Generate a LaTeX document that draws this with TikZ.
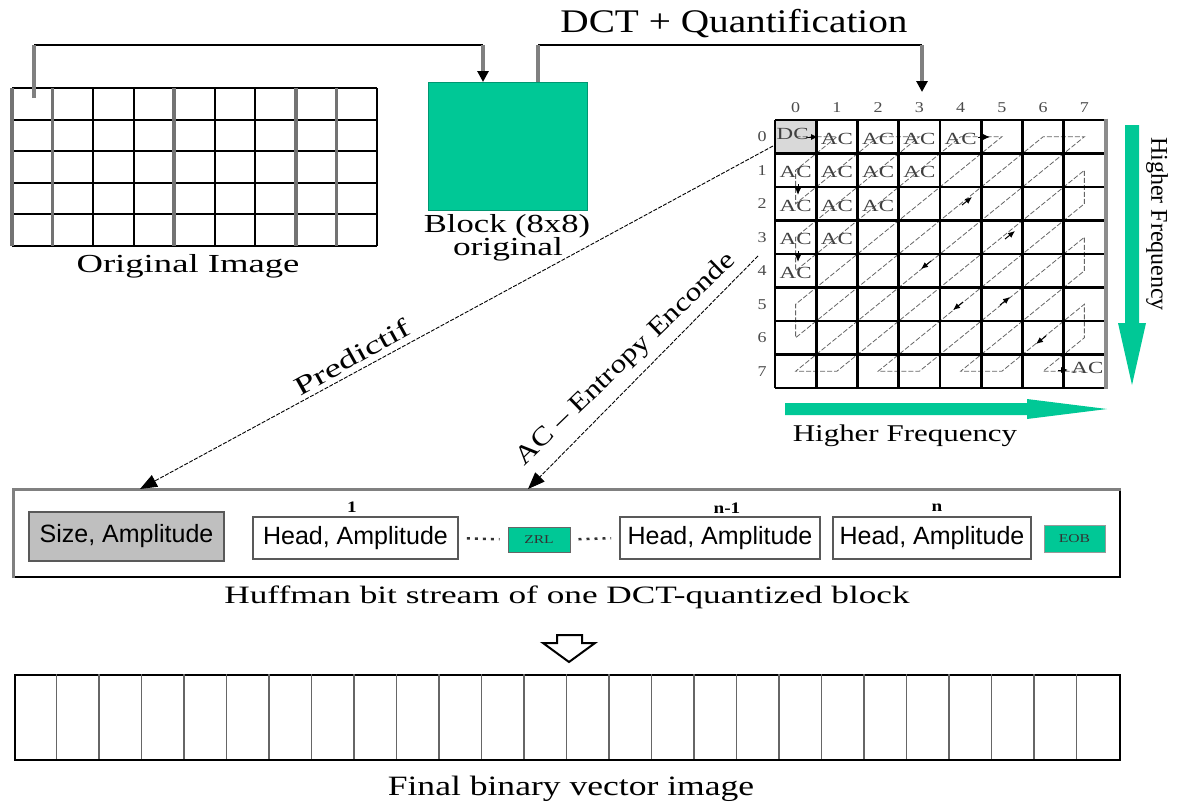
\documentclass[tikz,border=0pt]{standalone}
\usepackage{fontspec}
\setmainfont{Liberation Serif}
\setsansfont{Liberation Sans}
\usepackage{graphicx}
\usetikzlibrary{arrows.meta}
\definecolor{teal1}{RGB}{0,200,150}
\newcommand{\ST}[3]{{\fontsize{#1}{#1}\selectfont\scalebox{#2}[1]{#3}}}
\tikzset{
  grayline/.style={draw=black!50, line width=4pt},
  blkline/.style={draw=black, line width=2pt},
  tiptri/.style={-{Triangle[length=11pt,width=11pt,color=black]}},
  thinarrow/.style={line width=0.9pt, dash pattern=on 4pt off 1.5pt, -{Triangle[length=17pt,width=13pt]}},
  greenbox/.style={fill=teal1, draw=teal1!75!black, line width=1pt, inner sep=0pt},
  hbox/.style={draw=black!65, line width=1.8pt, inner sep=0pt, font=\sffamily\fontsize{25}{25}\selectfont},
  mline/.style={draw=black, line width=2.6pt},
  zig/.style={draw=black!60, line width=0.8pt, dash pattern=on 5pt off 2pt},
  zigtip/.style={draw=black, line width=1pt, -{Latex[length=7pt,width=6pt]}},
  acl/.style={inner sep=0pt, text=black!75},
  numl/.style={inner sep=0pt, text=black!70},
  lbl/.style={inner sep=0pt},
  dotsline/.style={draw=black!80, line width=2.5pt, dash pattern=on 3pt off 5pt, shorten <=8pt, shorten >=8pt}
}
\begin{document}
\begin{tikzpicture}[x=1pt,y=-1pt]
\fill[white] (0,0) rectangle (1182,803);
\useasboundingbox (0,0) rectangle (1182,803);

% ---------------- Original image grid
\node[inner sep=0pt, minimum width=365pt, minimum height=158pt, anchor=north west] (orig) at (12,88) {};
\foreach \j in {0,...,5} \draw[blkline] (12,{88+31.6*\j}) -- (377,{88+31.6*\j});
\foreach \i in {2,3,5,6,9} \draw[blkline] ({12+40.56*\i},88) -- ({12+40.56*\i},246);
\foreach \i in {0,1,4,7,8} \draw[draw=black!55, line width=3.5pt] ({12+40.56*\i},88) -- ({12+40.56*\i},246);
\node[lbl] (origlbl) at (188,266) {\ST{26}{1.41}{Original Image}};

% ---------------- Block
\node[greenbox, minimum width=159pt, minimum height=128pt, anchor=north west] (block) at (428,82) {};
\node[lbl] (blocklbl) at (507,226) {\ST{26}{1.33}{Block (8x8)}};
\node[lbl] (blocklbl2) at (508,249) {\ST{26}{1.36}{original}};

% ---------------- connectors at top
\coordinate (origcell) at (34,98);
\coordinate (k1) at (34,45);
\coordinate (k2) at (483,45);
\coordinate (k3) at (538,45);
\coordinate (k4) at (922,45);
\coordinate (k5) at (922,92);
\draw[blkline] (k1) -- (k2);
\draw[grayline] (origcell) -- (k1);
\draw[grayline, tiptri] (k2) -- (block.north -| k2);
\draw[blkline] (k3) -- (k4);
\draw[grayline] (block.north -| k3) -- (k3);
\draw[grayline, tiptri] (k4) -- (k5);
\node[lbl] (dctlbl) at (734,24) {\ST{33}{1.19}{DCT + Quantification}};

% ---------------- 8x8 matrix
\node[inner sep=0pt, minimum width=330pt, minimum height=268pt, anchor=north west] (mat) at (775,120) {};
\fill[black!15] (775,120) rectangle (816.25,153.5);
\foreach \r in {0,...,7}{\foreach \c in {0,...,7}{\coordinate (m\r\c) at ({775+41.25*(\c+0.5)},{120+33.5*(\r+0.5)});}}
\draw[zig] (m00)--(m01)--(m10)--(m20)--(m02)--(m03)--(m30)--(m40)--(m04)--(m05)--(m50)--(m60)--(m06)--(m07)--(m70)--(m71)--(m17)--(m27)--(m72)--(m73)--(m37)--(m47)--(m74)--(m75)--(m57)--(m67)--(m76)--(m77);
\foreach \i in {0,...,8} \draw[mline] ({775+41.25*\i},120) -- ({775+41.25*\i},388);
\foreach \j in {0,...,8} \draw[mline] (775,{120+33.5*\j}) -- (1105,{120+33.5*\j});
\draw[draw=black!45, line width=4pt] (1106,118.7) -- (1106,389.3);
% small direction marks of the zigzag scan
\draw[zigtip] (806,137) -- (818,137);
\draw[zigtip] (978,137) -- (990,137);
\draw[zigtip] (798,184) -- (798,195);
\draw[zigtip] (798,251) -- (798,262);
\draw[zigtip] (962,205) -- (972,197);
\draw[zigtip] (1005,239) -- (1015,231);
\draw[zigtip] (931,261) -- (921,269);
\draw[zigtip] (1000,305) -- (1010,297);
\draw[zigtip] (963,302) -- (953,310);
\draw[zigtip] (1046,336) -- (1036,344);
\draw[zigtip] (1058,370) -- (1068,370);
\node[acl] (dc) at ([xshift=-3pt,yshift=3pt]m00) {\ST{17}{1.35}{DC}};
\foreach \p in {01,02,03,04,10,11,12,13,20,21,22,30,31,40} \node[acl] (ac\p) at ([yshift=-2pt]m\p) {\ST{17}{1.35}{AC}};
\node[acl] (ac77) at ([xshift=3pt,yshift=3pt]m77) {\ST{17}{1.35}{AC}};
\foreach \c in {0,...,7} \node[numl] (col\c) at ({775+41.25*(\c+0.5)},108) {\ST{15}{1.2}{\c}};
\foreach \r in {0,...,7} \node[numl] (row\r) at (762,{120+33.5*(\r+0.5)}) {\ST{15}{1.2}{\r}};

% ---------------- green frequency arrows
\fill[teal1] (1125,125) -- (1139,125) -- (1139,323) -- (1146,323) -- (1132,385) -- (1118,323) -- (1125,323) -- cycle;
\fill[teal1] (785,403) -- (1027,403) -- (1027,399) -- (1107,409) -- (1027,419) -- (1027,415) -- (785,415) -- cycle;
\node[lbl, rotate=-90] (hfv) at (1157,224) {\ST{24}{1.0}{Higher Frequency}};
\node[lbl] (hfh) at (905,436) {\ST{24}{1.29}{Higher Frequency}};

% ---------------- Huffman stream
\node[draw=black, line width=2pt, inner sep=0pt, minimum width=1106pt, minimum height=87pt, anchor=north west] (huff) at (13,489) {};
\draw[draw=black!50, line width=3pt] (huff.south west) -- (huff.north west) -- (huff.north east);
\node[hbox, fill=black!25, minimum width=195pt, minimum height=49pt] (size) at (126.5,536.5) {Size, Amplitude};
\node[hbox, minimum width=205pt, minimum height=42pt] (ha1) at (355.5,538) {Head, Amplitude};
\node[greenbox, draw=black!60, minimum width=62pt, minimum height=25pt, font=\fontsize{12}{12}\selectfont, text=black!80] (zrl) at (539,539.5) {\scalebox{1.3}[1]{ZRL}};
\node[hbox, minimum width=200pt, minimum height=42pt] (han1) at (720,538) {Head, Amplitude};
\node[hbox, minimum width=198pt, minimum height=42pt] (han) at (932,538) {Head, Amplitude};
\node[greenbox, draw=black!40, minimum width=61pt, minimum height=27pt, font=\fontsize{12}{12}\selectfont, text=black!80] (eob) at (1074.5,538.5) {\scalebox{1.3}[1]{EOB}};
\draw[dotsline] (ha1.east) -- (zrl.west);
\draw[dotsline] (zrl.east) -- (han1.west);
\node[lbl] (n1) at (352,507) {\ST{16}{1.2}{\textbf{1}}};
\node[lbl] (nm1) at (727,508) {\ST{16}{1.2}{\textbf{n-1}}};
\node[lbl] (nn) at (937,508) {\ST{16}{1.2}{\textbf{n}}};
\node[lbl] (hufflbl) at (567,597) {\ST{25}{1.41}{Huffman bit stream of one DCT-quantized block}};

% ---------------- diagonal arrows
\coordinate (pstart) at (773,146);
\coordinate (pend) at (140,489);
\coordinate (astart) at (758,256);
\coordinate (aend) at (528,489);
\draw[thinarrow] (pstart) -- (pend);
\draw[thinarrow] (astart) -- (aend);
\node[lbl, rotate=29] (predlbl) at (352,357) {\ST{26}{1.44}{Predictif}};
\node[lbl, rotate=44] (aclbl) at (626,360) {\ST{26}{1.21}{AC -- Entropy Enconde}};

% ---------------- hollow arrow
\draw[line width=2pt, fill=white, line join=miter] (557,635) -- (582,635) -- (582,643) -- (595,643) -- (569,662) -- (543,643) -- (557,643) -- cycle;

% ---------------- final vector
\node[draw=black, line width=2pt, inner sep=0pt, minimum width=1105pt, minimum height=85pt, anchor=north west] (vec) at (14,674) {};
\foreach \i in {1,...,25} \draw[draw=black!60, line width=1.2pt] ({14+42.5*\i},674) -- ({14+42.5*\i},759);
\node[lbl] (veclbl) at (571,789) {\ST{28}{1.27}{Final binary vector image}};
\end{tikzpicture}
\end{document}
